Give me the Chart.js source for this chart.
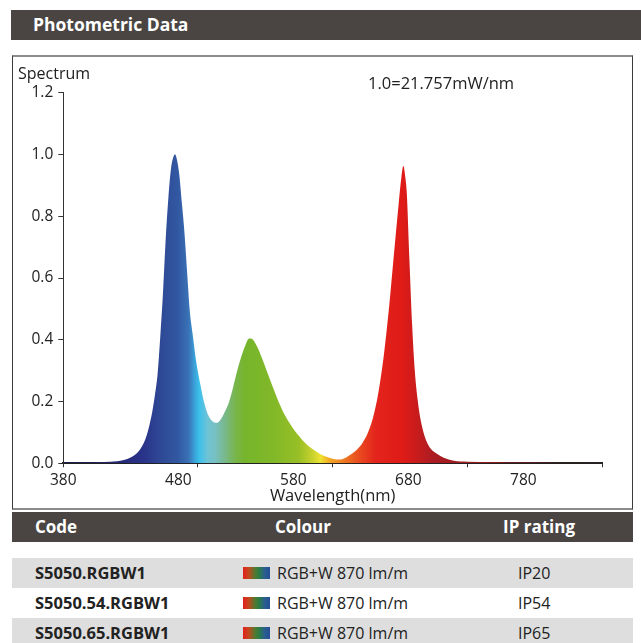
<!DOCTYPE html>
<html><head><meta charset="utf-8">
<script src="https://cdn.jsdelivr.net/npm/chart.js@4.4.1/dist/chart.umd.min.js"></script>
<style>
html,body{margin:0;padding:0;background:#fff;}
body{width:641px;height:643px;position:relative;overflow:hidden;font-family:"Open Sans",sans-serif;color:#222;}
.abs{position:absolute;}
#hdr{left:11px;top:10px;width:630px;height:30px;background:#4a4543;color:#fff;font-weight:700;font-size:17.5px;line-height:30px;}
#hdr span{position:absolute;left:22px;top:-1px;}
#box{left:12px;top:55px;width:619px;height:451px;border-top:2px solid #8c8c8c;border-bottom:2px solid #8c8c8c;border-left:1px solid #3a3a3a;border-right:1px solid #3a3a3a;}
#c{position:absolute;left:13px;top:57px;}
.lbl{font-size:16px;line-height:20px;white-space:nowrap;color:#222;}
.row{left:12px;width:621px;height:30px;line-height:30px;font-size:16px;white-space:nowrap;}
.row div{position:absolute;top:0;}
.th{background:#4a4543;color:#fff;font-weight:700;font-size:17px;}
.gray{background:#dedede;}
.code{font-weight:700;font-size:16.5px;}
.sw{width:27px;height:12px;top:9px !important;background:linear-gradient(to right,#e21f1f 0%,#c8451e 20%,#4f7a2f 45%,#2a7d45 60%,#2a5e8f 80%,#234f95 100%);}
</style></head>
<body>
<div id="hdr" class="abs"><span>Photometric Data</span></div>
<div id="box" class="abs"></div>
<canvas id="c" width="618" height="450"></canvas>
<div class="abs lbl" style="left:18px;top:63px;">Spectrum</div>
<div class="abs lbl" style="left:368px;top:73px;font-size:16.5px;">1.0=21.757mW/nm</div>
<div id="table"></div>
<script>
// ---- data ----
const wavelengths = [380,390,400,410,420,425,430,434,437,440,442,444,446,448,450,452,454,456,458,460,462,463,464,466,468,470,472,474,476,478,480,482,484,486,488,490,492,494,496,498,500,503,506,509,512,515,518,520,522,525,528,532,536,540,545,550,555,560,565,570,575,580,585,590,594,598,602,606,610,614,618,622,626,629,631,632.5,634,635,637,639,641,643,645,648,652,656,660,665,670,680,700,720,750,780];
const spectrum = [0.003,0.003,0.003,0.004,0.007,0.011,0.019,0.03,0.045,0.068,0.092,0.124,0.165,0.22,0.288,0.41,0.55,0.723,0.858,0.955,0.995,1.0,0.99,0.94,0.845,0.745,0.615,0.49,0.42,0.35,0.295,0.25,0.207,0.175,0.152,0.139,0.132,0.131,0.137,0.15,0.168,0.198,0.245,0.298,0.343,0.38,0.404,0.403,0.393,0.368,0.335,0.288,0.242,0.198,0.152,0.117,0.088,0.064,0.046,0.032,0.022,0.015,0.012,0.019,0.03,0.044,0.065,0.097,0.148,0.23,0.35,0.51,0.70,0.84,0.925,0.963,0.925,0.88,0.66,0.45,0.30,0.21,0.148,0.092,0.052,0.035,0.024,0.014,0.008,0.005,0.004,0.003,0.002,0.002];
const xTickValues = [380,480,580,680,780];
const yTickValues = [0,0.2,0.4,0.6,0.8,1.0,1.2];
const codes = ['S5050.RGBW1','S5050.54.RGBW1','S5050.65.RGBW1'];
const colours = ['RGB+W 870 lm/m','RGB+W 870 lm/m','RGB+W 870 lm/m'];
const ipRatings = ['IP20','IP54','IP65'];
const tableHeads = ['Code','Colour','IP rating'];

// ---- styles ----
const fillStops = [[380,'#1c1c55'],[425,'#262a7a'],[440,'#29348a'],[452,'#2e4895'],[465,'#3258a2'],[473,'#3a72b6'],[478,'#3aa6dc'],[481,'#3cc0ea'],[487,'#6fc3d6'],[493,'#78c0c2'],[500,'#79b88a'],[508,'#78b54a'],[515,'#76b52c'],[535,'#80b828'],[555,'#98bf26'],[565,'#c8d22e'],[571,'#ede332'],[578,'#f3a626'],[588,'#ee7a22'],[600,'#e94a20'],[612,'#e3241c'],[632,'#df1b17'],[642,'#c91c1c'],[655,'#aa1c22'],[700,'#8c1a1e'],[780,'#4a1818']];
const tickFont = {family:'"Open Sans", sans-serif', size:15.5};
const titleFont = {family:'"Open Sans", sans-serif', size:16.5};

// ---- table ----
const tbl = document.getElementById('table');
function addRow(top, cls, cells){
  const r = document.createElement('div');
  r.className = 'abs row ' + cls;
  r.style.top = top + 'px';
  cells.forEach(([left, txt, extra])=>{
    const d = document.createElement('div');
    d.style.left = left + 'px';
    if (extra) d.className = extra;
    d.textContent = txt;
    r.appendChild(d);
  });
  tbl.appendChild(r);
}
addRow(512, 'th', [[23, tableHeads[0]],[263, tableHeads[1]],[491, tableHeads[2]]]);
codes.forEach((c,i)=>{
  addRow(558 + i*30, i%2===0 ? 'gray' : '', [[23, c, 'code'],[231,'', 'sw'],[265, colours[i]],[506, ipRatings[i]]]);
});

// ---- chart ----
function spectrumFill(ctx){
  const chart = ctx.chart;
  const {chartArea, scales} = chart;
  if (!chartArea || !scales.x) return 'rgba(0,0,0,0)';
  const x0 = scales.x.getPixelForValue(380), x1 = scales.x.getPixelForValue(780);
  const g = chart.ctx.createLinearGradient(x0, 0, x1, 0);
  fillStops.forEach(([w,c])=> g.addColorStop((w-380)/400, c));
  return g;
}
const setTicks = vals => s => { s.ticks = vals.map(v=>({value:v})); };

new Chart(document.getElementById('c'), {
  type:'line',
  data:{datasets:[{
    data: wavelengths.map((w,i)=>({x:w, y:spectrum[i]})),
    fill:'origin', backgroundColor: spectrumFill, borderWidth:0, borderColor:'rgba(0,0,0,0)',
    pointRadius:0, cubicInterpolationMode:'monotone'
  }]},
  options:{
    responsive:false, animation:false, devicePixelRatio:1,
    layout:{padding:{left:0,right:29,top:35.7,bottom:0}},
    plugins:{legend:{display:false}, tooltip:{enabled:false}, title:{display:false}},
    scales:{
      x:{type:'linear', position:'bottom', min:380, max:780,
        afterBuildTicks: setTicks(xTickValues),
        ticks:{display:false},
        grid:{drawOnChartArea:false, tickLength:4, color:'#333', lineWidth:1},
        border:{color:'#222', width:2},
        afterFit: s=>{s.height=5; s.paddingLeft=0; s.paddingRight=0;}
      },
      x2:{type:'linear', position:'bottom', min:380, max:848.4,
        afterBuildTicks: setTicks(xTickValues),
        ticks:{font:tickFont, color:'#222', padding:3, maxRotation:0, autoSkip:false, callback:v=>String(v)},
        grid:{display:false, drawTicks:false},
        border:{display:false},
        title:{display:true, text:'Wavelength(nm)', font:titleFont, color:'#222', padding:{top:0,bottom:1}},
        afterFit: s=>{s.height=38.7; s.paddingLeft=0; s.paddingRight=0;}
      },
      y:{type:'linear', min:0, max:1.2,
        afterBuildTicks: setTicks(yTickValues),
        ticks:{font:tickFont, color:'#222', padding:5, callback:v=>v.toFixed(1)},
        grid:{drawOnChartArea:false, tickLength:5, color:'#333', lineWidth:1},
        border:{color:'#333', width:1},
        afterFit: s=>{s.width=50.3; s.paddingTop=0; s.paddingBottom=0;}
      }
    }
  }
});
</script>
</body></html>
